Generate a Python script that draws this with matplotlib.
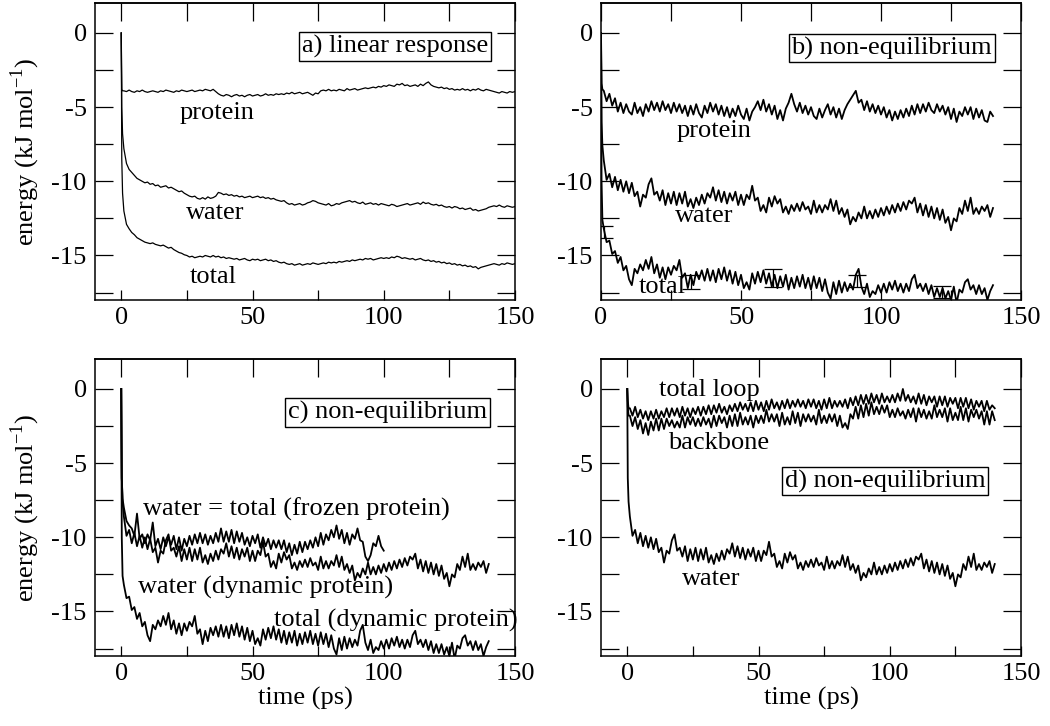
import matplotlib
matplotlib.use("Agg")
import matplotlib.pyplot as plt
from matplotlib.ticker import MultipleLocator, FuncFormatter
import numpy as np

plt.rcParams['font.family'] = ['Liberation Serif', 'DejaVu Serif']
plt.rcParams['mathtext.fontset'] = 'custom'
plt.rcParams['mathtext.rm'] = 'Liberation Serif'
plt.rcParams['axes.unicode_minus'] = False

# sampling: first three points at 0, 0.2, 0.5 ps, then one value per ps
t_head = [0.0, 0.2, 0.5]

# ---- panel a) linear response (0..150 ps)
prot_lr = [0.0, -3.8, -3.9,
    -3.9, -3.95, -3.85, -3.95, -4.0, -3.9, -3.95, -3.85, -3.95, -4.0,
    -3.95, -3.9, -3.95, -4.0, -3.9, -3.95, -3.85, -3.9, -3.95, -4.0,
    -3.9, -3.95, -3.85, -3.9, -3.95, -3.9, -3.85, -3.95, -3.9, -3.85,
    -3.9, -3.8, -3.85, -3.9, -3.8, -3.95, -4.1, -4.2, -4.25, -4.15,
    -4.2, -4.3, -4.2, -4.15, -4.25, -4.2, -4.3, -4.2, -4.15, -4.25,
    -4.2, -4.15, -4.25, -4.2, -4.1, -4.2, -4.15, -4.2, -4.1, -4.15,
    -4.1, -4.15, -4.05, -4.1, -4.0, -4.1, -4.05, -4.0, -4.1, -4.05,
    -4.0, -4.1, -4.2, -4.05, -4.1, -3.9, -3.85, -3.9, -3.8, -3.9,
    -3.85, -3.9, -3.8, -3.85, -3.9, -3.75, -3.85, -3.8, -3.75, -3.85,
    -3.8, -3.75, -3.7, -3.75, -3.7, -3.65, -3.7, -3.6, -3.65, -3.55,
    -3.6, -3.5, -3.55, -3.6, -3.45, -3.5, -3.4, -3.55, -3.5, -3.6,
    -3.55, -3.5, -3.6, -3.45, -3.55, -3.4, -3.3, -3.5, -3.6, -3.65,
    -3.7, -3.65, -3.75, -3.7, -3.8, -3.75, -3.85, -3.8, -3.85, -3.75,
    -3.85, -3.8, -3.9, -3.8, -3.85, -3.75, -3.85, -3.9, -3.8, -3.85,
    -3.9, -3.95, -4.0, -4.05, -3.95, -4.0, -4.05, -3.95, -4.0, -3.95]
water_lr = [0.0, -5.0, -6.8,
    -7.8, -8.8, -9.2, -9.4, -9.6, -9.8, -9.9, -10.0, -10.1, -10.05,
    -10.2, -10.15, -10.3, -10.25, -10.4, -10.35, -10.3, -10.45, -10.4, -10.5,
    -10.6, -10.7, -10.65, -10.8, -10.9, -11.0, -11.05, -11.0, -11.15, -11.2,
    -11.1, -11.2, -11.05, -11.15, -11.1, -11.0, -10.75, -10.8, -10.9, -10.85,
    -10.95, -10.9, -11.0, -10.95, -11.05, -11.0, -11.1, -11.05, -11.0, -11.1,
    -11.05, -11.0, -11.1, -11.05, -11.15, -11.1, -11.2, -11.15, -11.25, -11.3,
    -11.35, -11.3, -11.45, -11.55, -11.5, -11.6, -11.55, -11.5, -11.6, -11.55,
    -11.45, -11.4, -11.3, -11.35, -11.45, -11.5, -11.55, -11.6, -11.5, -11.65,
    -11.6, -11.5, -11.55, -11.45, -11.4, -11.35, -11.3, -11.4, -11.35, -11.45,
    -11.5, -11.4, -11.55, -11.5, -11.45, -11.55, -11.5, -11.6, -11.5, -11.55,
    -11.6, -11.65, -11.55, -11.6, -11.7, -11.65, -11.6, -11.55, -11.5, -11.6,
    -11.55, -11.5, -11.45, -11.55, -11.4, -11.5, -11.45, -11.55, -11.6, -11.55,
    -11.65, -11.6, -11.7, -11.75, -11.7, -11.8, -11.7, -11.75, -11.85, -11.8,
    -11.9, -11.85, -11.8, -11.95, -11.9, -12.0, -11.95, -11.9, -11.85, -11.75,
    -11.7, -11.65, -11.7, -11.6, -11.7, -11.75, -11.65, -11.7, -11.75, -11.7]
total_lr = [0.0, -8.5, -10.8,
    -12.0, -12.9, -13.2, -13.45, -13.6, -13.8, -13.9, -14.0, -14.1, -14.15,
    -14.2, -14.15, -14.25, -14.3, -14.35, -14.3, -14.4, -14.5, -14.45, -14.6,
    -14.7, -14.8, -14.85, -14.95, -15.0, -15.1, -15.05, -15.15, -15.1, -15.05,
    -15.1, -15.0, -15.05, -15.1, -15.0, -15.1, -15.05, -15.15, -15.1, -15.2,
    -15.15, -15.2, -15.25, -15.2, -15.3, -15.25, -15.2, -15.3, -15.35, -15.25,
    -15.3, -15.25, -15.35, -15.3, -15.25, -15.35, -15.3, -15.4, -15.35, -15.45,
    -15.5, -15.45, -15.55, -15.6, -15.55, -15.65, -15.6, -15.55, -15.65, -15.6,
    -15.55, -15.6, -15.5, -15.55, -15.6, -15.55, -15.5, -15.55, -15.45, -15.5,
    -15.45, -15.5, -15.4, -15.45, -15.4, -15.35, -15.4, -15.3, -15.35, -15.3,
    -15.25, -15.3, -15.2, -15.25, -15.2, -15.3, -15.25, -15.2, -15.15, -15.2,
    -15.15, -15.2, -15.1, -15.15, -15.05, -15.1, -15.2, -15.15, -15.2, -15.25,
    -15.2, -15.3, -15.25, -15.2, -15.3, -15.35, -15.3, -15.4, -15.35, -15.45,
    -15.4, -15.5, -15.45, -15.55, -15.5, -15.6, -15.55, -15.65, -15.6, -15.7,
    -15.65, -15.75, -15.7, -15.8, -15.75, -15.9, -15.8, -15.75, -15.7, -15.65,
    -15.6, -15.55, -15.6, -15.65, -15.55, -15.6, -15.5, -15.55, -15.6, -15.55]

# ---- non-equilibrium, dynamic protein (0..140 ps)
prot_ne = [0.0, -3.4, -3.8,
    -3.9, -4.6, -4.1, -4.9, -4.4, -5.3, -4.7, -5.4, -4.8, -5.3,
    -5.5, -4.7, -5.4, -5.0, -5.6, -4.8, -5.3, -4.6, -5.2, -4.7,
    -5.3, -4.6, -5.2, -4.8, -5.4, -4.7, -5.3, -4.8, -5.4, -4.9,
    -5.6, -4.9, -5.5, -4.8, -5.4, -5.7, -4.9, -5.4, -4.7, -5.3,
    -4.8, -5.5, -4.9, -5.6, -5.0, -5.7, -5.1, -5.6, -4.9, -5.5,
    -5.8, -5.1, -5.9, -5.3, -5.0, -4.6, -5.2, -4.5, -5.3, -4.8,
    -5.5, -4.9, -5.8, -5.2, -5.9, -5.1, -4.7, -4.1, -4.8, -5.3,
    -4.7, -5.4, -4.9, -5.5, -5.0, -5.6, -5.8, -5.1, -5.7, -5.2,
    -4.8, -5.5, -5.0, -5.7, -5.1, -5.8, -5.2, -4.8, -4.5, -4.2,
    -3.9, -4.7, -4.5, -5.2, -4.6, -5.3, -4.8, -5.4, -4.9, -5.5,
    -5.0, -5.7, -5.2, -5.9, -5.3, -5.8, -5.2, -5.7, -5.1, -5.6,
    -4.9, -5.5, -4.8, -5.4, -4.8, -5.3, -4.7, -5.2, -5.4, -4.8,
    -5.3, -4.9, -5.5, -5.0, -5.8, -5.1, -6.0, -5.3, -5.6, -5.0,
    -5.5, -5.0, -5.8, -5.1, -5.7, -5.2, -5.9, -6.0, -5.3, -5.6]
water_ne = [0.0, -6.0, -7.6,
    -8.6, -9.9, -9.5, -10.4, -9.7, -10.6, -9.9, -10.7, -10.0, -10.8,
    -10.1, -11.0, -10.7, -11.7, -10.9, -11.1, -10.2, -9.8, -10.9, -10.7,
    -11.3, -10.6, -11.6, -10.8, -11.5, -10.7, -11.6, -10.8, -11.5, -10.7,
    -11.7, -11.2, -11.8, -11.1, -11.6, -10.9, -11.5, -10.8, -11.1, -10.4,
    -11.3, -10.6, -11.4, -10.7, -11.5, -10.8, -11.3, -10.7, -11.6, -10.9,
    -11.6, -10.9, -11.2, -10.3, -11.3, -11.1, -12.0, -11.6, -12.1, -11.1,
    -11.7, -11.0, -11.5, -11.2, -12.1, -11.7, -12.2, -11.6, -12.0, -11.5,
    -12.0, -11.4, -11.9, -11.7, -12.2, -11.3, -12.1, -11.6, -12.1, -11.6,
    -11.9, -11.2, -12.0, -11.3, -12.2, -11.8, -12.4, -11.9, -12.9, -12.4,
    -12.7, -12.1, -12.5, -11.7, -12.5, -12.0, -12.5, -11.9, -12.4, -11.8,
    -12.3, -11.7, -12.2, -11.6, -12.1, -11.5, -12.0, -11.4, -11.9, -11.3,
    -11.5, -11.1, -12.1, -11.5, -12.3, -11.6, -12.4, -11.7, -12.5, -11.8,
    -12.6, -11.9, -12.8, -12.4, -13.3, -12.5, -12.7, -11.8, -12.2, -11.3,
    -12.0, -11.1, -12.2, -11.8, -12.2, -11.7, -12.0, -11.6, -12.4, -11.8]
total_ne = [0.0, -10.0, -12.6,
    -13.2, -14.1, -14.0, -14.9, -14.7, -15.5, -15.1, -16.0, -15.7, -16.6,
    -17.0, -15.9, -16.2, -15.6, -16.0, -15.3, -15.9, -15.1, -16.2, -15.6,
    -16.5, -15.8, -16.6, -15.8, -16.3, -15.7, -16.0, -15.3, -16.5, -16.2,
    -17.2, -16.3, -17.0, -16.1, -16.6, -16.0, -16.7, -15.9, -16.7, -16.0,
    -16.8, -15.9, -16.6, -15.8, -16.7, -16.0, -16.9, -16.1, -17.0, -16.3,
    -17.2, -16.8, -17.3, -16.2, -16.9, -16.1, -16.8, -16.0, -16.9, -16.2,
    -17.1, -16.3, -17.2, -16.4, -17.1, -16.3, -17.3, -16.5, -17.2, -16.4,
    -17.1, -16.3, -17.2, -16.5, -17.3, -16.4, -17.2, -16.5, -17.4, -16.6,
    -17.5, -17.9, -16.8, -17.6, -16.7, -17.5, -16.8, -17.4, -16.9, -17.3,
    -16.3, -15.9, -17.1, -17.6, -16.9, -17.8, -17.4, -17.6, -17.0, -17.5,
    -16.9, -17.5, -16.8, -17.3, -16.7, -17.4, -16.9, -17.5, -16.9, -17.4,
    -16.6, -16.3, -17.2, -16.9, -17.4, -16.9, -17.6, -17.0, -17.8, -17.2,
    -17.8, -17.2, -17.9, -17.4, -18.0, -17.1, -18.2, -17.3, -17.5, -16.8,
    -16.6, -17.3, -17.0, -17.6, -17.0, -17.6, -17.2, -18.0, -17.4, -17.0]

# error bars on the total curve of panel b
eb_t = [1.0, 32.0, 61.3, 91.3, 121.7]
eb_y = [-13.4, -16.77, -16.5, -16.74, -17.47]
eb_err = [0.42, 0.47, 0.62, 0.41, 0.42]

# ---- panel c) frozen protein, water = total (0..100 ps)
water_frozen = [0.0, -6.0, -7.4,
    -8.0, -8.9, -9.2, -9.4, -9.9, -8.4, -10.1, -9.8, -10.4, -9.8,
    -10.2, -9.0, -10.6, -10.1, -10.8, -10.0, -10.6, -10.0, -10.5, -9.9,
    -10.8, -10.0, -10.9, -10.1, -10.6, -9.9, -10.5, -9.8, -10.4, -9.7,
    -10.4, -9.8, -10.5, -9.9, -10.4, -9.7, -10.3, -9.4, -10.3, -9.6,
    -10.3, -9.5, -10.4, -9.6, -10.3, -9.7, -10.5, -10.0, -10.6, -9.9,
    -10.4, -9.8, -10.7, -10.0, -10.6, -10.1, -10.8, -10.2, -10.7, -10.2,
    -10.8, -10.2, -11.0, -10.4, -11.2, -10.5, -11.1, -10.3, -11.0, -10.3,
    -10.8, -10.2, -10.7, -10.0, -10.6, -9.7, -10.5, -9.8, -10.2, -9.5,
    -10.0, -9.2, -10.1, -9.5, -10.4, -9.7, -10.5, -9.8, -10.1, -9.4,
    -10.2, -10.3, -11.3, -11.6, -11.2, -10.4, -10.6, -9.9, -10.6, -10.9]

# ---- panel d) loop (0..140 ps)
loop_total = [0.0, -0.8, -1.3,
    -1.3, -1.8, -1.2, -1.9, -1.4, -2.0, -1.5, -2.1, -1.5, -2.0,
    -1.4, -2.0, -1.5, -1.9, -1.3, -1.9, -1.3, -1.8, -1.3, -1.9,
    -1.2, -1.8, -1.3, -1.9, -1.3, -1.7, -1.2, -1.8, -1.2, -1.7,
    -1.1, -1.7, -1.1, -1.6, -1.0, -1.6, -1.2, -1.7, -1.1, -1.5,
    -1.0, -1.5, -0.9, -1.4, -1.0, -1.5, -0.9, -1.5, -0.8, -1.4,
    -0.9, -1.5, -0.8, -1.4, -0.7, -1.3, -0.9, -1.4, -0.8, -1.3,
    -0.7, -1.3, -0.8, -1.2, -0.7, -1.2, -0.8, -1.3, -0.7, -1.2,
    -0.7, -1.3, -0.8, -1.4, -0.7, -1.3, -0.6, -1.3, -0.8, -1.2,
    -0.8, -1.2, -0.7, -1.3, -0.6, -1.1, -0.5, -1.1, -0.4, -1.0,
    -0.4, -1.0, -0.3, -0.9, -0.4, -1.0, -0.3, -0.9, -0.5, -0.9,
    -0.4, -0.9, -0.3, -0.8, 0.0, -0.8, -0.4, -0.9, -0.5, -1.0,
    -0.3, -1.0, -0.4, -1.1, -0.5, -0.9, -0.5, -1.2, -0.5, -1.1,
    -0.5, -1.2, -0.6, -1.0, -0.6, -1.3, -0.6, -1.2, -0.6, -1.3,
    -0.7, -1.4, -0.8, -1.2, -0.8, -1.5, -0.8, -1.4, -1.1, -1.3]
backbone = [0.0, -1.2, -1.8,
    -1.8, -2.5, -1.9, -2.7, -2.1, -3.0, -2.3, -3.1, -2.2, -2.8,
    -2.0, -2.8, -2.0, -2.7, -2.0, -2.5, -2.1, -2.6, -2.2, -2.6,
    -1.8, -2.6, -1.9, -2.4, -1.9, -2.5, -2.0, -2.5, -1.9, -2.4,
    -2.0, -2.6, -1.8, -2.5, -1.8, -2.3, -1.9, -2.6, -1.8, -2.5,
    -1.7, -2.5, -1.6, -2.4, -1.9, -2.4, -1.8, -2.6, -1.8, -2.3,
    -1.8, -2.3, -1.4, -2.2, -1.7, -2.2, -1.7, -2.5, -1.6, -2.4,
    -1.9, -2.4, -1.5, -2.3, -1.6, -2.5, -1.7, -2.2, -1.7, -2.2,
    -1.8, -2.4, -1.4, -2.3, -1.8, -2.3, -1.7, -2.2, -1.7, -2.5,
    -1.8, -2.6, -2.3, -2.7, -1.7, -2.0, -1.2, -2.0, -1.1, -1.9,
    -1.0, -1.8, -0.9, -1.7, -1.2, -1.7, -1.1, -1.6, -1.1, -1.9,
    -1.4, -1.9, -1.3, -1.8, -1.5, -2.0, -1.4, -1.9, -1.3, -2.2,
    -1.3, -1.9, -1.4, -2.0, -1.5, -2.0, -1.1, -1.9, -1.4, -1.9,
    -1.3, -2.2, -1.3, -2.1, -1.6, -2.1, -1.2, -2.1, -1.3, -2.2,
    -1.4, -1.9, -1.4, -2.0, -1.5, -2.4, -1.5, -2.4, -1.5, -2.1]


def times(vals):
    n = len(vals) - len(t_head)
    return np.concatenate([t_head, np.arange(1, n + 1)])


FS = 19
W, H = 1050, 726
fig = plt.figure(figsize=(W / 100, H / 100), dpi=100)


def make_ax(left, top, xmin):
    ax = fig.add_axes([left / W, 1 - (top + 296.7) / H, 420 / W, 296.7 / H])
    ax.set_xlim(xmin, 150)
    ax.set_ylim(-18, 2)
    for s in ax.spines.values():
        s.set_linewidth(1.1)
    ax.xaxis.set_major_locator(MultipleLocator(50))
    ax.xaxis.set_minor_locator(MultipleLocator(25))
    ax.yaxis.set_major_locator(MultipleLocator(5))
    ax.yaxis.set_minor_locator(MultipleLocator(2.5))
    ax.tick_params(axis='x', which='both', direction='in', length=7, width=0.9,
                   top=False, labelsize=FS, pad=5)
    ax.tick_params(axis='y', which='both', direction='in', length=13, width=0.9,
                   right=True, labelsize=FS, pad=6)
    ax.xaxis.set_major_formatter(FuncFormatter(lambda v, p: '%d' % v))
    ax.yaxis.set_major_formatter(FuncFormatter(lambda v, p: '%d' % v))
    # longer ticks on the top edge
    top_ax = ax.secondary_xaxis('top')
    top_ax.xaxis.set_major_locator(MultipleLocator(25))
    top_ax.tick_params(direction='in', length=13, width=0.9, labeltop=False)
    top_ax.spines['top'].set_linewidth(1.1)
    return ax


def box_label(ax, x, y, s):
    ax.text(x, y, s, ha='right', va='baseline', fontsize=FS,
            bbox=dict(boxstyle='square,pad=0.1', fc='white', ec='black', lw=1.0))


line = dict(color='black', lw=0.9)
noisy = dict(color='black', lw=1.3)

# a) linear response
ax_a = make_ax(95, 3.3, -10)
for v in (prot_lr, water_lr, total_lr):
    ax_a.plot(times(v), v, **line)
ax_a.text(22.3, -5.8, 'protein', fontsize=FS)
ax_a.text(24.8, -12.55, 'water', fontsize=FS)
ax_a.text(26.1, -16.85, 'total', fontsize=FS)
box_label(ax_a, 139.8, -1.33, 'a) linear response')
ax_a.set_ylabel(r'energy (kJ mol$^{\mathrm{-1}}$)', fontsize=FS)
ax_a.yaxis.set_label_coords(-0.126, 0.5)

# b) non-equilibrium
ax_b = make_ax(601, 3.3, 0)
for v in (prot_ne, water_ne, total_ne):
    ax_b.plot(times(v), v, **noisy)
ax_b.errorbar(eb_t, eb_y, yerr=eb_err, fmt='none', ecolor='black',
              elinewidth=0.9, capsize=6.5, capthick=0.9)
ax_b.text(27.0, -6.98, 'protein', fontsize=FS)
ax_b.text(26.4, -12.74, 'water', fontsize=FS)
ax_b.text(13.3, -17.56, 'total', fontsize=FS)
box_label(ax_b, 139.6, -1.44, 'b) non-equilibrium')

# c) non-equilibrium, frozen vs dynamic protein
ax_c = make_ax(95, 359.3, -10)
for v in (water_frozen, water_ne, total_ne):
    ax_c.plot(times(v), v, **noisy)
ax_c.text(8.3, -8.51, 'water = total (frozen protein)', fontsize=FS)
ax_c.text(6.3, -13.78, 'water (dynamic protein)', fontsize=FS)
ax_c.text(58.1, -16.02, 'total (dynamic protein)', fontsize=FS)
box_label(ax_c, 139.4, -2.0, 'c) non-equilibrium')
ax_c.set_ylabel(r'energy (kJ mol$^{\mathrm{-1}}$)', fontsize=FS)
ax_c.yaxis.set_label_coords(-0.126, 0.5)
ax_c.set_xlabel('time (ps)', fontsize=FS)
ax_c.xaxis.set_label_coords(0.5, -0.105)

# d) non-equilibrium, loop
ax_d = make_ax(601, 359.3, -10)
for v in (loop_total, backbone, water_ne):
    ax_d.plot(times(v), v, **noisy)
ax_d.text(12.1, -0.45, 'total loop', fontsize=FS)
ax_d.text(15.5, -4.03, 'backbone', fontsize=FS)
ax_d.text(21.0, -13.22, 'water', fontsize=FS)
box_label(ax_d, 136.5, -6.63, 'd) non-equilibrium')
ax_d.set_xlabel('time (ps)', fontsize=FS)
ax_d.xaxis.set_label_coords(0.5, -0.105)

fig.savefig('out.png', dpi=100)
